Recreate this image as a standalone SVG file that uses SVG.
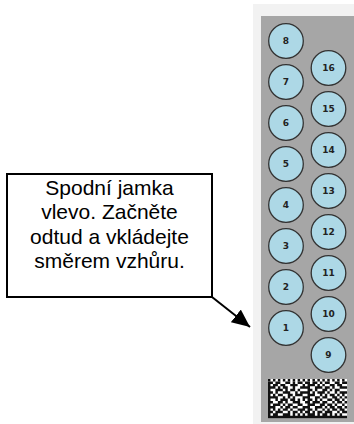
<svg xmlns="http://www.w3.org/2000/svg" width="354" height="424" viewBox="0 0 354 424">
<defs>
<style>
.well circle{fill:#add8e6;stroke:#333;stroke-width:1.3}
.well text{font-family:"DejaVu Sans",sans-serif;font-weight:bold;font-size:9px;fill:#222;text-anchor:middle}
.note text{font-family:"Liberation Sans",Arial,sans-serif;font-size:21px;fill:#000;text-anchor:middle}
</style>
<marker id="ah" markerUnits="userSpaceOnUse" markerWidth="18" markerHeight="16" refX="18" refY="8" orient="auto">
<path d="M0,0 L18,8 L0,16 z" fill="#000"/>
</marker>
</defs>
<rect width="354" height="424" fill="#fff"/>
<g id="plate">
<rect x="253" y="4" width="101" height="420" fill="#f2f2f2"/>
<rect x="261" y="16" width="93" height="406" fill="#a6a6a6"/>
</g>
<g id="w8" class="well"><circle cx="286" cy="41" r="17.3"/><text x="286" y="44.3">8</text></g>
<g id="w7" class="well"><circle cx="286" cy="82" r="17.3"/><text x="286" y="85.3">7</text></g>
<g id="w6" class="well"><circle cx="286" cy="123" r="17.3"/><text x="286" y="126.3">6</text></g>
<g id="w5" class="well"><circle cx="286" cy="164" r="17.3"/><text x="286" y="167.3">5</text></g>
<g id="w4" class="well"><circle cx="286" cy="205" r="17.3"/><text x="286" y="208.3">4</text></g>
<g id="w3" class="well"><circle cx="286" cy="246" r="17.3"/><text x="286" y="249.3">3</text></g>
<g id="w2" class="well"><circle cx="286" cy="287" r="17.3"/><text x="286" y="290.3">2</text></g>
<g id="w1" class="well"><circle cx="286" cy="328" r="17.3"/><text x="286" y="331.3">1</text></g>
<g id="w16" class="well"><circle cx="328.5" cy="68" r="17.3"/><text x="328.5" y="71.3">16</text></g>
<g id="w15" class="well"><circle cx="328.5" cy="109" r="17.3"/><text x="328.5" y="112.3">15</text></g>
<g id="w14" class="well"><circle cx="328.5" cy="150" r="17.3"/><text x="328.5" y="153.3">14</text></g>
<g id="w13" class="well"><circle cx="328.5" cy="191" r="17.3"/><text x="328.5" y="194.3">13</text></g>
<g id="w12" class="well"><circle cx="328.5" cy="232" r="17.3"/><text x="328.5" y="235.3">12</text></g>
<g id="w11" class="well"><circle cx="328.5" cy="273" r="17.3"/><text x="328.5" y="276.3">11</text></g>
<g id="w10" class="well"><circle cx="328.5" cy="314" r="17.3"/><text x="328.5" y="317.3">10</text></g>
<g id="w9" class="well"><circle cx="328.5" cy="355" r="17.3"/><text x="328.5" y="358.3">9</text></g>
<g id="datamatrix" transform="translate(268,379) scale(2.47,2.45)">
<rect width="32" height="16" fill="#fff"/>
<line x1="0" y1="0.5" x2="32" y2="0.5" stroke="#111" stroke-width="1" stroke-dasharray="1 1"/>
<path fill="#111" d="
M0 1h2v1h-2zM3 1h2v1h-2zM7 1h2v1h-2zM10 1h1v1h-1zM12 1h2v1h-2zM15 1h1v1h-1zM16 1h1v1h-1zM18 1h2v1h-2zM21 1h1v1h-1zM23 1h2v1h-2zM27 1h2v1h-2zM30 1h2v1h-2z
M0 2h1v1h-1zM2 2h2v1h-2zM5 2h2v1h-2zM9 2h3v1h-3zM14 2h1v1h-1zM16 2h3v1h-3zM20 2h1v1h-1zM22 2h1v1h-1zM25 2h2v1h-2zM28 2h2v1h-2z
M0 3h3v1h-3zM4 3h1v1h-1zM6 3h2v1h-2zM10 3h1v1h-1zM13 3h3v1h-3zM16 3h1v1h-1zM19 3h3v1h-3zM23 3h2v1h-2zM26 3h1v1h-1zM29 3h3v1h-3z
M0 4h1v1h-1zM3 4h3v1h-3zM7 4h1v1h-1zM9 4h2v1h-2zM12 4h1v1h-1zM16 4h2v1h-2zM19 4h1v1h-1zM22 4h2v1h-2zM25 4h1v1h-1zM27 4h2v1h-2z
M0 5h2v1h-2zM3 5h1v1h-1zM6 5h3v1h-3zM11 5h1v1h-1zM13 5h3v1h-3zM16 5h1v1h-1zM18 5h1v1h-1zM20 5h3v1h-3zM24 5h1v1h-1zM27 5h1v1h-1zM29 5h3v1h-3z
M0 6h1v1h-1zM2 6h1v1h-1zM4 6h2v1h-2zM8 6h2v1h-2zM11 6h3v1h-3zM16 6h3v1h-3zM21 6h1v1h-1zM23 6h1v1h-1zM25 6h2v1h-2zM28 6h1v1h-1zM30 6h1v1h-1z
M0 7h4v1h-4zM6 7h1v1h-1zM8 7h1v1h-1zM10 7h1v1h-1zM14 7h2v1h-2zM16 7h1v1h-1zM19 7h2v1h-2zM22 7h2v1h-2zM26 7h2v1h-2zM29 7h1v1h-1zM31 7h1v1h-1z
M0 8h1v1h-1zM3 8h1v1h-1zM5 8h3v1h-3zM9 8h2v1h-2zM12 8h1v1h-1zM14 8h1v1h-1zM16 8h2v1h-2zM19 8h1v1h-1zM21 8h1v1h-1zM24 8h2v1h-2zM27 8h2v1h-2zM30 8h1v1h-1z
M0 9h2v1h-2zM4 9h2v1h-2zM7 9h1v1h-1zM10 9h3v1h-3zM15 9h1v1h-1zM16 9h1v1h-1zM18 9h3v1h-3zM22 9h2v1h-2zM26 9h1v1h-1zM28 9h2v1h-2zM31 9h1v1h-1z
M0 10h1v1h-1zM2 10h3v1h-3zM6 10h1v1h-1zM8 10h2v1h-2zM12 10h2v1h-2zM16 10h3v1h-3zM21 10h2v1h-2zM24 10h2v1h-2zM27 10h1v1h-1zM30 10h1v1h-1z
M0 11h3v1h-3zM5 11h1v1h-1zM7 11h2v1h-2zM10 11h2v1h-2zM14 11h2v1h-2zM16 11h1v1h-1zM19 11h3v1h-3zM23 11h1v1h-1zM25 11h2v1h-2zM28 11h2v1h-2zM31 11h1v1h-1z
M0 12h1v1h-1zM2 12h1v1h-1zM4 12h1v1h-1zM6 12h2v1h-2zM9 12h1v1h-1zM12 12h3v1h-3zM16 12h2v1h-2zM19 12h1v1h-1zM22 12h1v1h-1zM24 12h1v1h-1zM26 12h2v1h-2zM29 12h2v1h-2z
M0 13h2v1h-2zM3 13h3v1h-3zM8 13h1v1h-1zM10 13h2v1h-2zM13 13h1v1h-1zM15 13h1v1h-1zM16 13h1v1h-1zM18 13h1v1h-1zM20 13h2v1h-2zM23 13h3v1h-3zM28 13h1v1h-1zM30 13h2v1h-2z
M0 14h1v1h-1zM2 14h2v1h-2zM6 14h3v1h-3zM10 14h1v1h-1zM12 14h1v1h-1zM14 14h1v1h-1zM16 14h3v1h-3zM20 14h1v1h-1zM22 14h2v1h-2zM25 14h1v1h-1zM27 14h1v1h-1zM29 14h1v1h-1z
M0 15h32v1h-32z"/>
</g>
<g id="note" class="note">
<rect x="7" y="174" width="205" height="123" fill="#fff" stroke="#000" stroke-width="2"/>
<text x="109.5" y="195">Spodní jamka</text>
<text x="109.5" y="219.3">vlevo. Začněte</text>
<text x="109.5" y="243.6">odtud a vkládejte</text>
<text x="109.5" y="268">směrem vzhůru.</text>
</g>
<g id="connectors">
<line x1="212" y1="297" x2="250" y2="327" stroke="#000" stroke-width="2" marker-end="url(#ah)"/>
</g>
</svg>
